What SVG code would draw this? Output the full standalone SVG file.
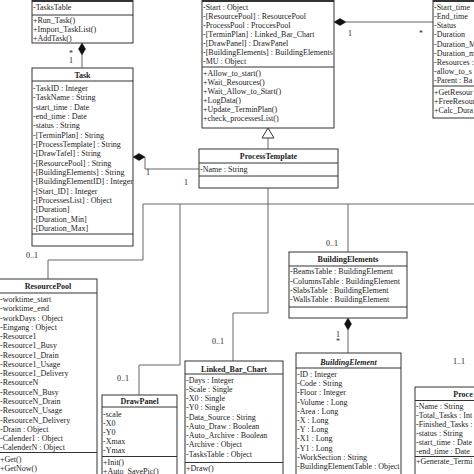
<svg xmlns="http://www.w3.org/2000/svg" width="474" height="474" viewBox="0 0 474 474">
<style>
.box{fill:#fff;stroke:#333;stroke-width:1}
.sep{stroke:#333;stroke-width:1}
.hdr{stroke:#333;stroke-width:2}
.conn{fill:none;stroke:#666;stroke-width:1}
.dia{fill:#111;stroke:#111;stroke-width:0.5}
.gen{fill:#fff;stroke:#333;stroke-width:1}
text{font-family:"Liberation Serif","Times New Roman",serif;font-size:8px;fill:#222}
.t{font-weight:bold;text-anchor:middle}
.ti{font-weight:bold;font-style:italic;text-anchor:middle}
</style>
<rect width="474" height="474" fill="#fff"/>

<g id="connectors">
  <path class="conn" d="M82,55 V68"/>
  <polygon class="dia" points="82,43 85.5,49 82,55 78.5,49"/>
  <path class="conn" d="M145,157 V169 H199"/>
  <polygon class="dia" points="133,157 139,153.5 145,157 139,160.5"/>
  <path class="conn" d="M268,138 V149"/>
  <polygon class="gen" points="268,128 262,138 274,138"/>
  <path class="conn" d="M346,22 H433"/>
  <polygon class="dia" points="334,22 340,18.5 346,22 340,25.5"/>
  <path class="conn" d="M268,188 V313 H233 V361"/>
  <path class="conn" d="M474,204 H143 V260 H48 V279"/>
  <path class="conn" d="M180,204 V365 H139 V395"/>
  <path class="conn" d="M348,204 V252"/>
  <path class="conn" d="M348,330 V353"/>
  <polygon class="dia" points="348,318 351.5,324 348,330 344.5,324"/>
  <text x="69" y="56">*</text>
  <text x="69" y="63">1</text>
  <text x="146" y="175">1</text>
  <text x="184" y="185">1</text>
  <text x="348" y="36">1</text>
  <text x="419" y="36">*</text>
  <text x="26" y="258">0..1</text>
  <text x="117" y="381">0..1</text>
  <text x="212" y="344">0..1</text>
  <text x="326" y="246">0..1</text>
  <text x="336" y="337">1</text>
  <text x="336" y="344">*</text>
  <text x="453" y="364">1..1</text>
</g>

<g id="tasklist">
  <rect class="box" x="32" y="-20" width="101" height="63"/>
  <line class="hdr" x1="32" y1="1" x2="133" y2="1"/>
  <line class="sep" x1="32" y1="15" x2="133" y2="15"/>
  <text x="33" y="9.8">-TasksTable</text>
  <text x="33" y="22.8">+Run_Task()</text>
  <text x="33" y="31.8">+Import_TaskList()</text>
  <text x="33" y="40.8">+AddTask()</text>
</g>

<g id="task">
  <rect class="box" x="32" y="68" width="101" height="178"/>
  <line class="sep" x1="32" y1="81" x2="133" y2="81"/>
  <line class="sep" x1="32" y1="234" x2="133" y2="234"/>
  <text class="t" x="82.5" y="77.8">Task</text>
  <text x="33" y="90.8">-TaskID : Integer</text>
  <text x="33" y="100.2">-TaskName : String</text>
  <text x="33" y="109.5">-start_time : Date</text>
  <text x="33" y="118.9">-end_time : Date</text>
  <text x="33" y="128.2">-status : String</text>
  <text x="33" y="137.6">-[TerminPlan] : String</text>
  <text x="33" y="146.9">-[ProcessTemplate] : String</text>
  <text x="33" y="156.3">-[DrawTafel] : String</text>
  <text x="33" y="165.6">-[ResourcePool] : String</text>
  <text x="33" y="175">-[BuildingElements] : String</text>
  <text x="33" y="184.3">-[BuildingElementID] : Integer</text>
  <text x="33" y="193.7">-[Start_ID] : Integer</text>
  <text x="33" y="203">-[ProcessesList] : Object</text>
  <text x="33" y="212.4">-[Duration]</text>
  <text x="33" y="221.7">-[Duration_Min]</text>
  <text x="33" y="231.1">-[Duration_Max]</text>
</g>

<g id="process">
  <rect class="box" x="202" y="-20" width="132" height="148"/>
  <line class="hdr" x1="202" y1="1" x2="334" y2="1"/>
  <line class="sep" x1="202" y1="67" x2="334" y2="67"/>
  <text x="203" y="9.6">-Start : Object</text>
  <text x="203" y="18.7">-[ResourcePool] : ResourcePool</text>
  <text x="203" y="27.8">-ProcessPool : ProccesPool</text>
  <text x="203" y="36.9">-[TerminPlan] : Linked_Bar_Chart</text>
  <text x="203" y="46">-[DrawPanel] : DrawPanel</text>
  <text x="203" y="55.1">-[BuildingElements] : BuildingElements</text>
  <text x="203" y="64.2">-MU : Object</text>
  <text x="203" y="75.5">+Allow_to_start()</text>
  <text x="203" y="84.6">+Wait_Resources()</text>
  <text x="203" y="93.7">+Wait_Allow_to_Start()</text>
  <text x="203" y="102.8">+LogData()</text>
  <text x="203" y="111.9">+Update_TerminPlan()</text>
  <text x="203" y="121">+check_processesList()</text>
</g>

<g id="resource">
  <rect class="box" x="433" y="-20" width="60" height="138"/>
  <line class="hdr" x1="433" y1="1" x2="474" y2="1"/>
  <line class="sep" x1="433" y1="86" x2="474" y2="86"/>
  <text x="434" y="10.1">-Start_time</text>
  <text x="434" y="19.2">-End_time</text>
  <text x="434" y="28.3">-Status</text>
  <text x="434" y="37.4">-Duration</text>
  <text x="434" y="46.5">-Duration_M</text>
  <text x="434" y="55.6">-Duration_m</text>
  <text x="434" y="64.7">-Resources :</text>
  <text x="434" y="73.8">-allow_to_s</text>
  <text x="434" y="82.9">-Parent : Ba</text>
  <text x="434" y="94.6">+GetResour</text>
  <text x="434" y="103.7">+FreeResour</text>
  <text x="434" y="112.8">+Calc_Dura</text>
</g>

<g id="processtemplate">
  <rect class="box" x="199" y="149" width="139" height="39"/>
  <line class="sep" x1="199" y1="163" x2="338" y2="163"/>
  <line class="sep" x1="199" y1="176" x2="338" y2="176"/>
  <text class="t" x="268.5" y="158.8">ProcessTemplate</text>
  <text x="200" y="172.3">-Name : String</text>
</g>

<g id="buildingelements">
  <rect class="box" x="289" y="252" width="118" height="66"/>
  <line class="sep" x1="289" y1="266" x2="407" y2="266"/>
  <line class="sep" x1="289" y1="307" x2="407" y2="307"/>
  <text class="t" x="348" y="261.8">BuildingElements</text>
  <text x="290" y="274.1">-BeamsTable : BuildingElement</text>
  <text x="290" y="283.5">-ColumnsTable : BuildingElement</text>
  <text x="290" y="292.8">-SlabsTable : BuildingElement</text>
  <text x="290" y="302.1">-WallsTable : BuildingElement</text>
</g>

<g id="buildingelement">
  <rect class="box" x="296" y="353" width="105" height="130"/>
  <line class="sep" x1="296" y1="368" x2="401" y2="368"/>
  <text class="ti" x="348.5" y="364.5">BuildingElement</text>
  <text x="297" y="377">-ID : Integer</text>
  <text x="297" y="386.2">-Code : String</text>
  <text x="297" y="395.4">-Floor : Integer</text>
  <text x="297" y="404.6">-Volume : Long</text>
  <text x="297" y="413.8">-Area : Long</text>
  <text x="297" y="423">-X : Long</text>
  <text x="297" y="432.2">-Y : Long</text>
  <text x="297" y="441.4">-X1 : Long</text>
  <text x="297" y="450.6">-Y1 : Long</text>
  <text x="297" y="459.8">-WorkSection : String</text>
  <text x="297" y="469">-BuildingElementTable : Object</text>
</g>

<g id="resourcepool">
  <rect class="box" x="-1" y="279" width="98" height="210"/>
  <line class="sep" x1="-1" y1="293" x2="97" y2="293"/>
  <line class="sep" x1="-1" y1="452.5" x2="97" y2="452.5"/>
  <text class="t" x="48" y="288.8">ResourcePool</text>
  <text x="0" y="302">-worktime_start</text>
  <text x="0" y="311.3">-worktime_end</text>
  <text x="0" y="320.5">-workDays : Object</text>
  <text x="0" y="329.8">-Eingang : Object</text>
  <text x="0" y="339.1">-Resource1</text>
  <text x="0" y="348.3">-Resource1_Busy</text>
  <text x="0" y="357.6">-Resource1_Drain</text>
  <text x="0" y="366.9">-Resource1_Usage</text>
  <text x="0" y="376.1">-Resource1_Delivery</text>
  <text x="0" y="385.4">-ResourceN</text>
  <text x="0" y="394.7">-ResourceN_Busy</text>
  <text x="0" y="403.9">-ResourceN_Drain</text>
  <text x="0" y="413.2">-ResourceN_Usage</text>
  <text x="0" y="422.5">-ResourceN_Delivery</text>
  <text x="0" y="431.7">-Drain : Object</text>
  <text x="0" y="441">-Calender1 : Object</text>
  <text x="0" y="450.2">-CalenderN : Object</text>
  <text x="0" y="461.5">+Get()</text>
  <text x="0" y="470.5">+GetNow()</text>
</g>

<g id="drawpanel">
  <rect class="box" x="102" y="395" width="75" height="90"/>
  <line class="sep" x1="102" y1="407" x2="177" y2="407"/>
  <line class="sep" x1="102" y1="456.5" x2="177" y2="456.5"/>
  <text class="t" x="139.5" y="403.8">DrawPanel</text>
  <text x="103" y="416.6">-scale</text>
  <text x="103" y="425.8">-X0</text>
  <text x="103" y="435">-Y0</text>
  <text x="103" y="444.2">-Xmax</text>
  <text x="103" y="453.4">-Ymax</text>
  <text x="103" y="464.6">+Init()</text>
  <text x="103" y="473.6">+Auto_SavePic()</text>
</g>

<g id="linked_bar_chart">
  <rect class="box" x="185" y="361" width="98" height="124"/>
  <line class="sep" x1="185" y1="374" x2="283" y2="374"/>
  <line class="sep" x1="185" y1="462.5" x2="283" y2="462.5"/>
  <text class="t" x="234" y="371.7">Linked_Bar_Chart</text>
  <text x="186" y="382.6">-Days : Integer</text>
  <text x="186" y="391.9">-Scale : Single</text>
  <text x="186" y="401.1">-X0 : Single</text>
  <text x="186" y="410.4">-Y0 : Single</text>
  <text x="186" y="419.6">-Data_Source : String</text>
  <text x="186" y="428.9">-Auto_Draw : Boolean</text>
  <text x="186" y="438.1">-Auto_Archive : Boolean</text>
  <text x="186" y="447.4">-Archive : Object</text>
  <text x="186" y="456.6">-TasksTable : Object</text>
  <text x="186" y="470.6">+Draw()</text>
</g>

<g id="processpool">
  <rect class="box" x="415" y="387" width="78" height="100"/>
  <line class="sep" x1="415" y1="400.5" x2="474" y2="400.5"/>
  <line class="sep" x1="415" y1="456.5" x2="474" y2="456.5"/>
  <text class="t" x="463" y="396.5">Proce</text>
  <text x="416" y="408.7">-Name : String</text>
  <text x="416" y="417.7">-Total_Tasks : Int</text>
  <text x="416" y="426.7">-Finished_Tasks :</text>
  <text x="416" y="436">-status : String</text>
  <text x="416" y="445.2">-start_time : Date</text>
  <text x="416" y="454.4">-end_time : Date</text>
  <text x="416" y="464.2">+Generate_Termi</text>
</g>
</svg>
